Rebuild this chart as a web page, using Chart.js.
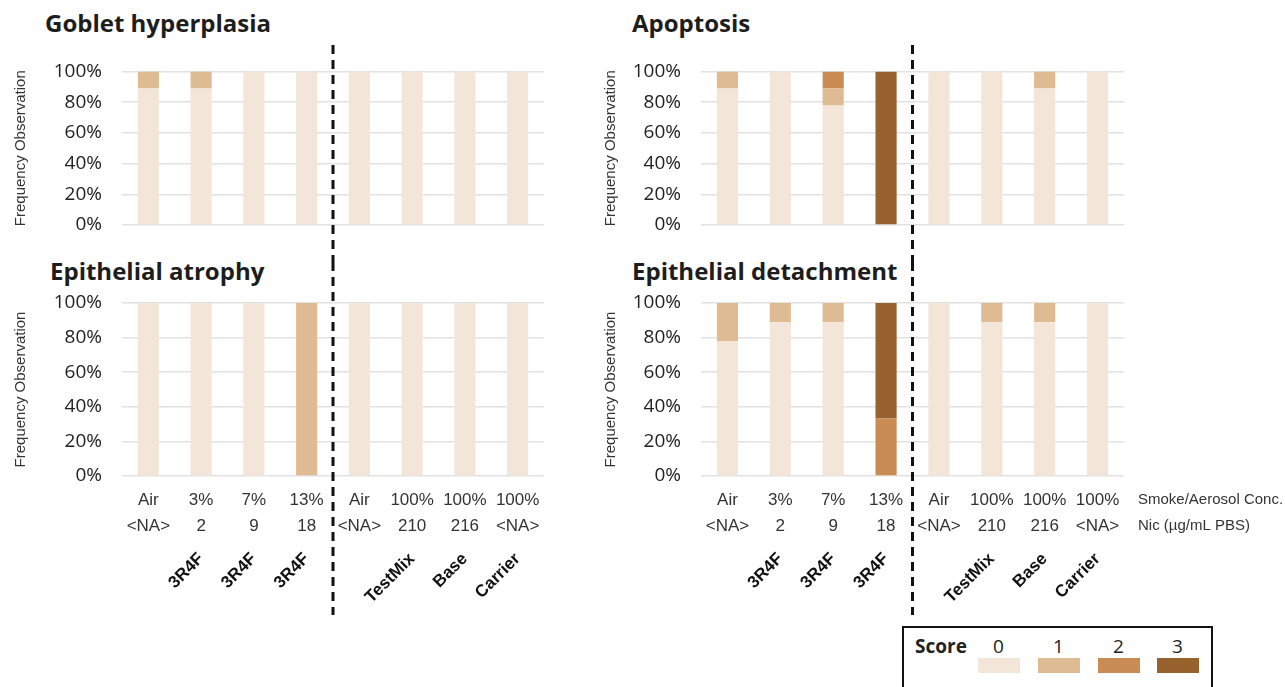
<!DOCTYPE html>
<html>
<head>
<meta charset="utf-8">
<script src="https://cdn.jsdelivr.net/npm/chart.js@4.4.1/dist/chart.umd.min.js"></script>
<style>
body { margin: 0; background: #fff; width: 1285px; height: 687px; overflow: hidden; position: relative; font-family: "Open Sans", sans-serif; }
canvas { position: absolute; }
.title { position: absolute; font-weight: 700; font-size: 24px; line-height: 24px; color: #1d1d1d; white-space: nowrap; }
.legend { position: absolute; left: 902px; top: 626px; width: 307px; height: 80px; border: 2px solid #111; }
.legend span { position: absolute; font-size: 19px; line-height: 20px; color: #222; }
.legend .swatch { position: absolute; top: 30px; width: 42px; height: 15px; }
</style>
</head>
<body>
<div class="title" style="left:45px; top:11px;">Goblet hyperplasia</div>
<div class="title" style="left:632px; top:11px;">Apoptosis</div>
<div class="title" style="left:50px; top:259px;">Epithelial atrophy</div>
<div class="title" style="left:632px; top:259px;">Epithelial detachment</div>

<canvas id="goblet" style="left:0px; top:40px;" width="570" height="222"></canvas>
<canvas id="apoptosis" style="left:590px; top:40px;" width="570" height="222"></canvas>
<canvas id="atrophy" style="left:0px; top:262px;" width="570" height="358"></canvas>
<canvas id="detachment" style="left:590px; top:262px;" width="695" height="358"></canvas>

<div class="legend" id="legend"></div>

<script>
// x axis rows
var concLabels = ["Air", "3%", "7%", "13%", "Air", "100%", "100%", "100%"];
var nicLabels = ["<NA>", "2", "9", "18", "<NA>", "210", "216", "<NA>"];
var productLabels = ["", "3R4F", "3R4F", "3R4F", "", "TestMix", "Base", "Carrier"];
var rowNames = ["Smoke/Aerosol Conc.", "Nic (\u00b5g/mL PBS)"];

var scoreLabels = ["0", "1", "2", "3"];
var scoreColors = ["#f3e6d9", "#dfbb93", "#c98c54", "#98622f"];

// frequency (%) of each score per group
var gobletScore0 = [88.9, 88.9, 100, 100, 100, 100, 100, 100];
var gobletScore1 = [11.1, 11.1, 0, 0, 0, 0, 0, 0];
var gobletScore2 = [0, 0, 0, 0, 0, 0, 0, 0];
var gobletScore3 = [0, 0, 0, 0, 0, 0, 0, 0];

var apoptosisScore0 = [88.9, 100, 77.8, 0, 100, 100, 88.9, 100];
var apoptosisScore1 = [11.1, 0, 11.1, 0, 0, 0, 11.1, 0];
var apoptosisScore2 = [0, 0, 11.1, 0, 0, 0, 0, 0];
var apoptosisScore3 = [0, 0, 0, 100, 0, 0, 0, 0];

var atrophyScore0 = [100, 100, 100, 0, 100, 100, 100, 100];
var atrophyScore1 = [0, 0, 0, 100, 0, 0, 0, 0];
var atrophyScore2 = [0, 0, 0, 0, 0, 0, 0, 0];
var atrophyScore3 = [0, 0, 0, 0, 0, 0, 0, 0];

var detachmentScore0 = [77.8, 88.9, 88.9, 0, 100, 88.9, 88.9, 100];
var detachmentScore1 = [22.2, 11.1, 11.1, 0, 0, 11.1, 11.1, 0];
var detachmentScore2 = [0, 0, 0, 33.3, 0, 0, 0, 0];
var detachmentScore3 = [0, 0, 0, 66.7, 0, 0, 0, 0];

var narrow = '"Liberation Sans", Arial, sans-serif';
Chart.defaults.font.family = '"Open Sans", sans-serif';
Chart.defaults.animation = false;

var groupLabels = concLabels.map(function(c, i) { return [c, nicLabels[i]]; });

// dashed separator between the 3R4F groups and the product groups
var dividerPlugin = {
    id: "divider",
    afterDraw: function(chart, args, opts) {
        var x = chart.scales.x;
        var px = (x.getPixelForValue(3) + x.getPixelForValue(4)) / 2;
        var ctx = chart.ctx;
        ctx.save();
        ctx.strokeStyle = "#111";
        ctx.lineWidth = 3;
        ctx.setLineDash([9, 6]);
        ctx.beginPath();
        ctx.moveTo(px, opts.from);
        ctx.lineTo(px, opts.to);
        ctx.stroke();
        ctx.restore();
    }
};

var rowNamePlugin = {
    id: "rowNames",
    afterDraw: function(chart, args, opts) {
        if (!opts.show) return;
        var x = chart.scales.x;
        var ctx = chart.ctx;
        ctx.save();
        ctx.font = "15px " + narrow;
        ctx.fillStyle = "#333";
        ctx.textBaseline = "middle";
        ctx.textAlign = "left";
        for (var i = 0; i < rowNames.length; i++) {
            ctx.fillText(rowNames[i], x.right + 14, x.top + 24 + i * 26);
        }
        ctx.restore();
    }
};

function makeDatasets(s0, s1, s2, s3) {
    return [s0, s1, s2, s3].map(function(d, i) {
        return {
            label: "Score " + scoreLabels[i],
            data: d,
            backgroundColor: scoreColors[i],
            borderWidth: 0,
            barPercentage: 0.4,
            categoryPercentage: 1
        };
    });
}

function makePanel(id, datasets, opts) {
    var scales = {
        x: {
            stacked: true,
            display: opts.showLabels,
            grid: { display: false, drawTicks: false },
            border: { display: false },
            ticks: { autoSkip: false, maxRotation: 0, padding: 11, color: "#333", font: { family: narrow, size: 17, lineHeight: 26 / 17 } }
        },
        y: {
            stacked: true,
            min: 0,
            max: 100,
            grid: { color: "#e2e2e2", lineWidth: 1.5, drawTicks: false },
            border: { display: false },
            ticks: { autoSkip: false, stepSize: 20, padding: 20, color: "#222", font: { size: 19 }, callback: function(v) { return v + "%"; } },
            title: { display: true, text: "Frequency Observation", color: "#333", font: { family: narrow, size: 15 }, padding: { top: 12, bottom: 0 } },
            afterFit: function(s) { s.width = opts.yWidth; }
        }
    };
    if (opts.showLabels) {
        scales.x.afterFit = function(s) { s.height = 63; };
        scales.x2 = {
            type: "category",
            labels: productLabels,
            position: "bottom",
            weight: 1,
            offset: true,
            grid: { display: false, drawTicks: false },
            border: { display: false },
            ticks: { autoSkip: false, minRotation: 45, maxRotation: 45, padding: 10, color: "#111", font: { family: narrow, size: 17, weight: "bold" } },
            afterFit: function(s) { s.height = 81; }
        };
    }
    return new Chart(document.getElementById(id), {
        type: "bar",
        data: { labels: groupLabels, datasets: datasets },
        options: {
            responsive: false,
            layout: { padding: opts.padding },
            plugins: {
                legend: { display: false },
                tooltip: { enabled: false },
                divider: opts.divider,
                rowNames: { show: !!opts.rowNames }
            },
            scales: scales
        },
        plugins: [dividerPlugin, rowNamePlugin]
    });
}

var gobletChart = makePanel("goblet", makeDatasets(gobletScore0, gobletScore1, gobletScore2, gobletScore3), {
    showLabels: false, yWidth: 122, padding: { top: 12, right: 26, bottom: 37, left: 0 }, divider: { from: 5, to: 222 }
});
var apoptosisChart = makePanel("apoptosis", makeDatasets(apoptosisScore0, apoptosisScore1, apoptosisScore2, apoptosisScore3), {
    showLabels: false, yWidth: 111, padding: { top: 12, right: 36, bottom: 37, left: 0 }, divider: { from: 5, to: 222 }
});
var atrophyChart = makePanel("atrophy", makeDatasets(atrophyScore0, atrophyScore1, atrophyScore2, atrophyScore3), {
    showLabels: true, yWidth: 122, padding: { top: 41, right: 26, bottom: 0, left: 0 }, divider: { from: 0, to: 353 }
});
var detachmentChart = makePanel("detachment", makeDatasets(detachmentScore0, detachmentScore1, detachmentScore2, detachmentScore3), {
    showLabels: true, yWidth: 111, padding: { top: 41, right: 161, bottom: 0, left: 0 }, divider: { from: 0, to: 353 }, rowNames: true
});

// score legend
var legend = document.getElementById("legend");
var html = '<span style="left:11px; top:8px; font-weight:700;">Score</span>';
var centers = [95, 155, 215, 274];
for (var i = 0; i < scoreLabels.length; i++) {
    html += '<span style="left:' + (centers[i] - 6) + 'px; top:8px;">' + scoreLabels[i] + '</span>';
    html += '<div class="swatch" style="left:' + (centers[i] - 21) + 'px; background:' + scoreColors[i] + ';"></div>';
}
legend.innerHTML = html;
</script>
</body>
</html>
